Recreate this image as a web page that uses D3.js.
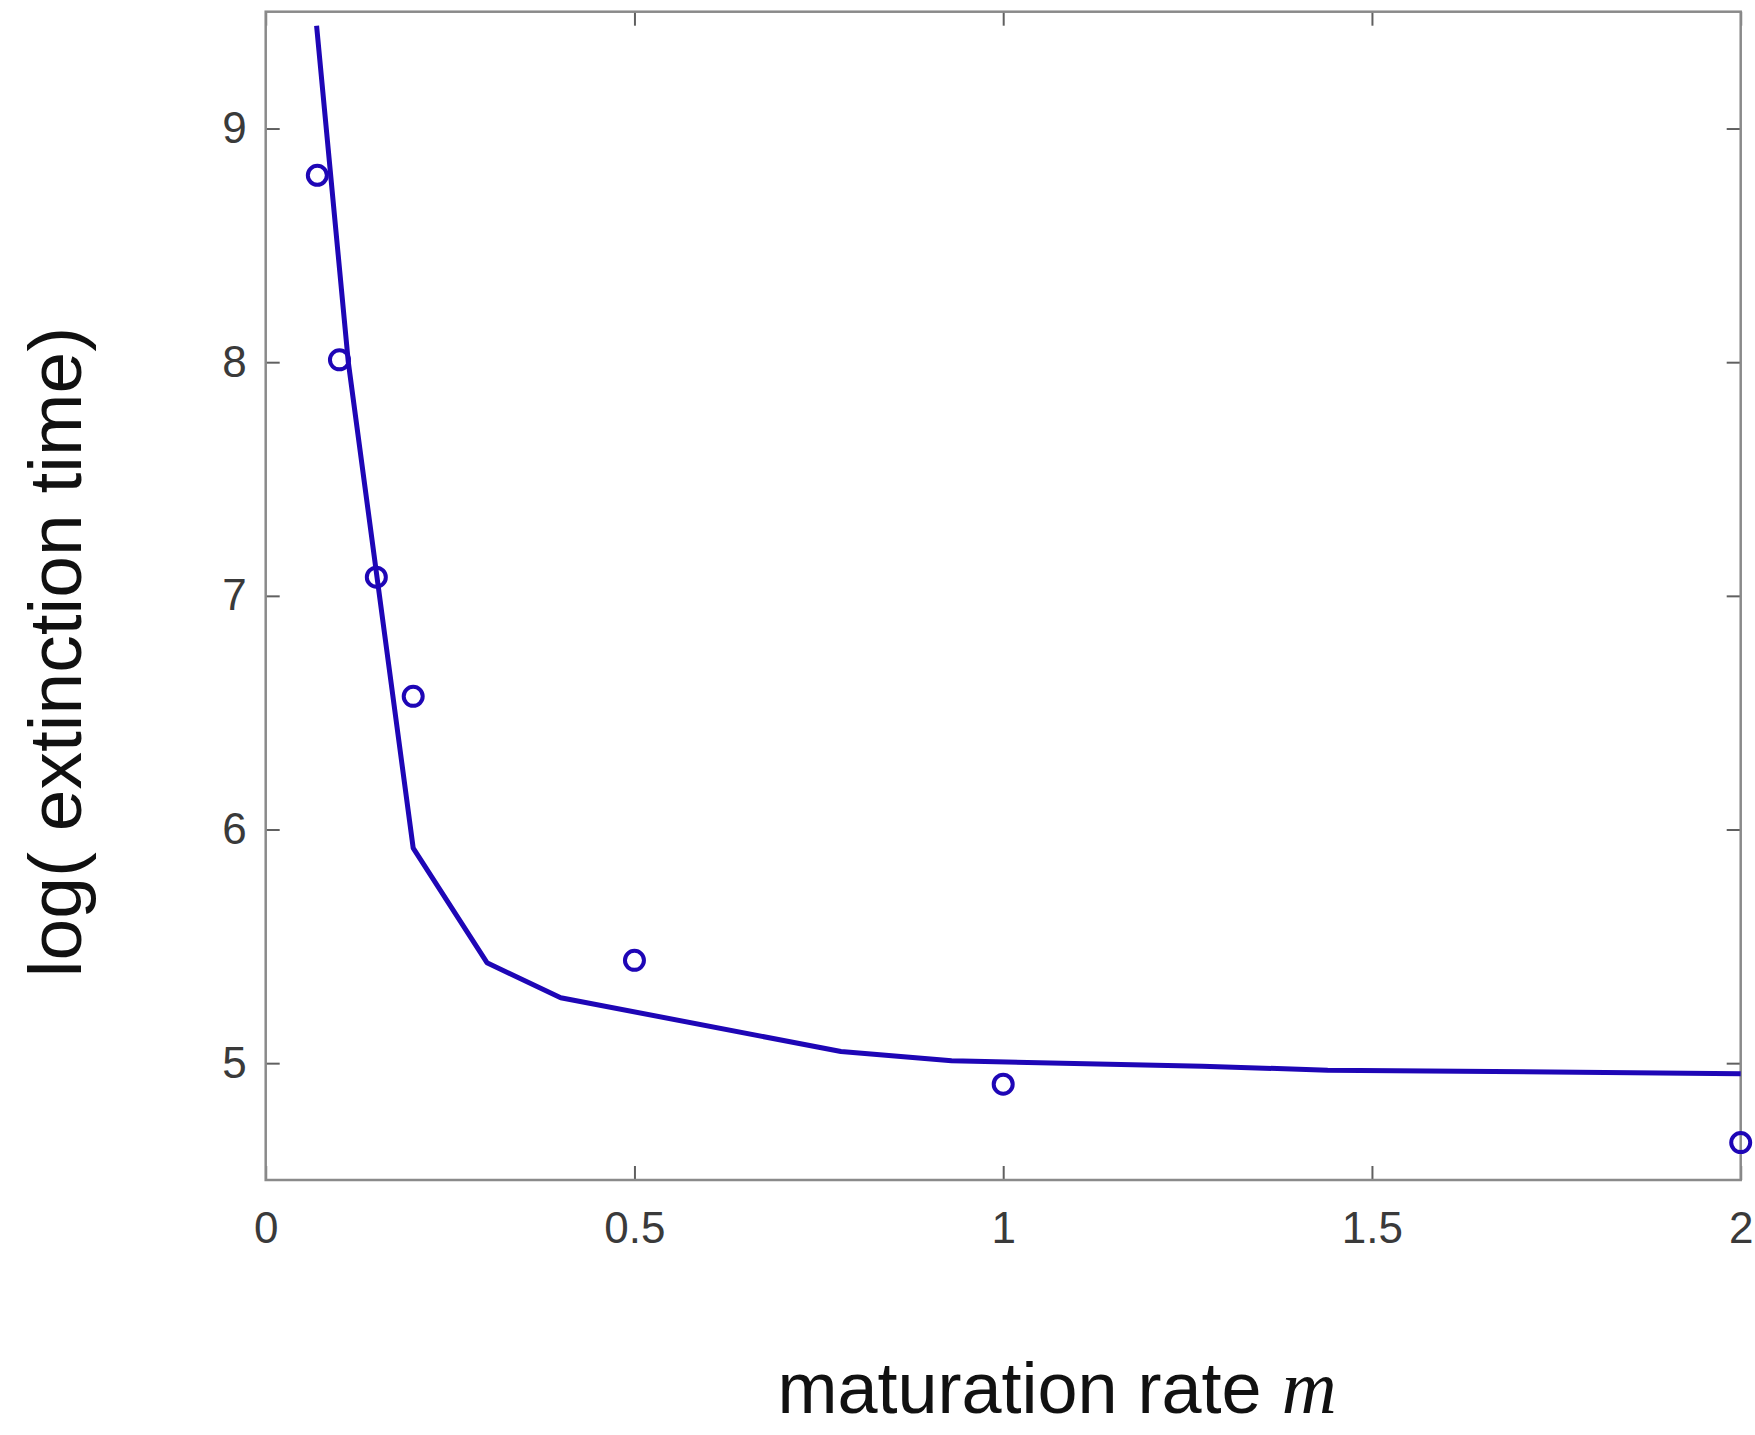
<!DOCTYPE html>
<html>
<head>
<meta charset="utf-8">
<script src="https://cdn.jsdelivr.net/npm/d3@7"></script>
<style>
  html, body { margin: 0; padding: 0; background: #fff; }
</style>
</head>
<body>
<div id="chart"></div>
<script>
// simulation points (circles)
const simM = [0.07, 0.1, 0.15, 0.2, 0.5, 1, 2];
const simLogT = [8.80, 8.01, 7.08, 6.57, 5.44, 4.91, 4.66];

// approximation curve (line)
const curveM = [0.069, 0.112, 0.2, 0.3, 0.4, 0.78, 0.93, 1.27, 1.44, 2];
const curveLogT = [9.44, 8.0, 5.92, 5.43, 5.28, 5.05, 5.01, 4.987, 4.97, 4.955];

const xTicks = [0, 0.5, 1, 1.5, 2];
const yTicks = [5, 6, 7, 8, 9];

const Width = 1755;
const Height = 1435;
const margin = { top: 11.7, right: 14.3, bottom: 255, left: 265.7 };
const blue = "#1e06b6";

const x = d3.scaleLinear([0, 2], [margin.left, Width - margin.right]);
const y = d3.scaleLinear([4.5, 9.5], [Height - margin.bottom, margin.top]);

const svg = d3
  .select("#chart")
  .append("svg")
  .attr("width", Width)
  .attr("height", Height);

//axes, ticks point inwards like matlab
const fmt = (d) => String(d);
function styleAxis(g) {
  g.selectAll(".domain").remove();
  g.selectAll(".tick line").attr("stroke", "#606060").attr("stroke-width", 2);
  g.selectAll(".tick text")
    .attr("fill", "#3a3a3a")
    .style("font", "44px 'Liberation Sans', Arial, sans-serif");
}

svg.append("g")
  .attr("transform", `translate(0,${Height - margin.bottom})`)
  .call(d3.axisBottom(x).tickValues(xTicks).tickFormat(fmt).tickSize(-14).tickPadding(32))
  .call(styleAxis);

svg.append("g")
  .attr("transform", `translate(0,${margin.top})`)
  .call(d3.axisTop(x).tickValues(xTicks).tickFormat("").tickSize(-14))
  .call(styleAxis);

svg.append("g")
  .attr("transform", `translate(${margin.left},0)`)
  .call(d3.axisLeft(y).tickValues(yTicks).tickFormat(fmt).tickSize(-14).tickPadding(19))
  .call(styleAxis);

svg.append("g")
  .attr("transform", `translate(${Width - margin.right},0)`)
  .call(d3.axisRight(y).tickValues(yTicks).tickFormat("").tickSize(-14))
  .call(styleAxis);

// box
svg.append("rect")
  .attr("x", margin.left)
  .attr("y", margin.top)
  .attr("width", Width - margin.left - margin.right)
  .attr("height", Height - margin.top - margin.bottom)
  .attr("fill", "none")
  .attr("stroke", "#8a8a8a")
  .attr("stroke-width", 2.5);

const line = d3
  .line()
  .x((d, i) => x(curveM[i]))
  .y((d) => y(d));

svg.append("path")
  .datum(curveLogT)
  .attr("d", line)
  .attr("fill", "none")
  .attr("stroke", blue)
  .attr("stroke-width", 5)
  .attr("stroke-linejoin", "round");

svg.append("g")
  .selectAll("circle")
  .data(simLogT)
  .join("circle")
  .attr("cx", (d, i) => x(simM[i]))
  .attr("cy", (d) => y(d))
  .attr("r", 9.5)
  .attr("fill", "none")
  .attr("stroke", blue)
  .attr("stroke-width", 4);

// labels
svg.append("text")
  .attr("transform", `translate(81,${652}) rotate(-90)`)
  .attr("text-anchor", "middle")
  .style("font", "75px 'Liberation Sans', Arial, sans-serif")
  .attr("fill", "#111")
  .text("log( extinction time)");

const xl = svg.append("text")
  .attr("x", 1057)
  .attr("y", 1413)
  .attr("text-anchor", "middle")
  .style("font", "72px 'Liberation Sans', Arial, sans-serif")
  .attr("fill", "#111");
xl.append("tspan").text("maturation rate ");
xl.append("tspan")
  .style("font", "italic 76px 'Liberation Serif', 'Times New Roman', serif")
  .text("m");
</script>
</body>
</html>
